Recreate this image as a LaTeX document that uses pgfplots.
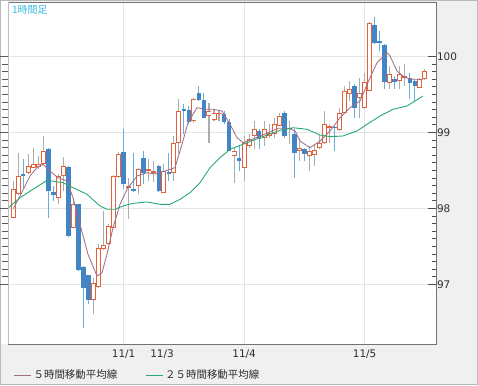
\documentclass[border=0pt]{standalone}
\usepackage{fontspec}
\setmainfont{DejaVu Sans}
\newfontfamily\jp{Noto Sans CJK JP}
\usepackage{pgfplots}
\usepackage{pgfplotstable}
\pgfplotsset{compat=1.18}
\definecolor{upc}{RGB}{226,98,62}
\definecolor{dnc}{RGB}{66,132,196}
\definecolor{wickup}{RGB}{172,172,172}
\definecolor{wickdn}{RGB}{100,175,225}
\definecolor{maf}{RGB}{160,112,138}
\definecolor{mas}{RGB}{40,170,115}
\definecolor{bggray}{RGB}{240,240,240}
\definecolor{gridc}{RGB}{228,228,228}
\definecolor{titlec}{RGB}{60,180,230}
\definecolor{txt}{RGB}{45,45,45}

\pgfplotstableread{
i o h l c
0 97.879 98.36 97.87 98.253
1 98.187 98.734 98.18 98.428
3 98.471 98.713 98.45 98.559
4 98.536 98.80 98.53 98.582
5 98.546 98.69 98.52 98.589
6 98.582 98.954 98.57 98.757
9 98.142 98.45 98.055 98.428
10 98.428 98.678 98.23 98.559
12 97.747 98.142 97.74 98.055
16 96.796 97.089 96.616 97.016
17 96.971 97.529 96.96 97.476
18 97.463 97.967 97.45 97.520
19 97.529 97.80 97.52 97.770
20 97.747 98.44 97.74 98.428
21 98.418 98.74 98.40 98.721
23 98.27 98.405 97.858 98.29
25 98.296 98.537 98.187 98.516
27 98.493 98.65 98.36 98.516
28 98.47 98.62 98.35 98.49
30 98.208 98.58 98.20 98.493
32 98.471 98.954 98.362 98.866
33 98.866 99.437 98.72 99.283
36 99.151 99.458 99.13 99.437
39 99.217 99.392 98.866 99.283
40 99.161 99.305 99.15 99.261
41 99.239 99.28 99.15 99.261
44 98.691 98.80 98.34 98.757
46 98.537 98.954 98.362 98.866
47 98.822 98.976 98.80 98.91
48 98.954 99.151 98.78 99.042
50 98.932 99.151 98.82 99.042
51 98.954 99.11 98.93 98.997
52 98.976 99.195 98.932 99.108
53 99.086 99.26 99.08 99.217
55 99.042 99.151 98.845 99.063
57 98.757 98.93 98.625 98.80
59 98.691 98.82 98.493 98.757
60 98.704 98.845 98.56 98.766
61 98.80 98.976 98.78 98.866
62 98.866 99.283 98.845 99.108
63 99.063 99.108 98.866 99.086
65 99.033 99.326 99.02 99.261
66 99.261 99.612 99.25 99.546
67 99.503 99.678 99.414 99.568
69 99.458 99.72 99.195 99.524
70 99.318 99.787 99.31 99.668
71 99.546 100.45 99.54 100.445
75 99.655 99.875 99.568 99.774
77 99.678 99.875 99.568 99.774
78 99.721 99.897 99.61 99.743
81 99.59 99.72 99.58 99.70
82 99.70 99.836 99.69 99.809
}\upcandles

\pgfplotstableread{
i o h l c
2 98.45 98.647 98.274 98.428
7 98.779 98.79 97.879 98.230
8 98.217 98.30 98.10 98.178
11 98.546 98.56 97.62 97.638
13 98.055 98.06 97.18 97.191
14 97.234 97.24 96.432 96.958
15 97.121 97.13 96.739 96.796
22 98.743 99.042 98.25 98.318
24 98.257 98.73 98.22 98.23
26 98.668 98.757 98.318 98.471
29 98.559 98.57 98.22 98.230
31 98.48 98.734 98.362 98.45
34 99.305 99.371 98.976 99.283
35 99.296 99.35 99.11 99.142
37 99.524 99.612 99.41 99.424
38 99.424 99.52 99.19 99.195
42 99.239 99.283 99.11 99.142
43 99.142 99.18 98.75 98.757
45 98.66 98.82 98.49 98.625
49 99.02 99.042 98.78 98.91
54 99.261 99.283 98.932 98.954
56 98.976 99.042 98.405 98.734
58 98.779 98.80 98.625 98.713
64 99.076 99.086 98.757 99.055
68 99.612 99.634 99.195 99.326
72 100.414 100.52 100.17 100.182
73 100.204 100.336 100.07 100.182
74 100.147 100.16 99.568 99.668
76 99.70 99.743 99.568 99.668
79 99.721 99.787 99.437 99.655
80 99.678 99.70 99.414 99.612
}\downcandles

\pgfplotstableread{
x y
0 97.993
1.35 98.164
3.35 98.428
4.74 98.537
5.94 98.582
7.33 98.493
8.92 98.405
10.72 98.362
11.91 98.142
13.31 97.792
14.9 97.397
16.69 97.112
17.69 97.155
18.68 97.397
19.88 97.747
21.27 98.055
22.67 98.253
24.66 98.428
26.65 98.471
28.25 98.454
30.24 98.493
32.23 98.537
33.63 98.845
34.82 99.129
36.61 99.326
38.21 99.305
39.8 99.305
41.59 99.283
43.19 99.108
44.58 98.932
45.78 98.866
47.57 98.91
49.16 98.954
50.76 98.997
52.75 99.055
54.74 99.055
56.14 99.02
57.13 98.888
59.12 98.80
61.12 98.888
63.11 99.02
65.1 99.195
67.09 99.326
69.08 99.414
71.08 99.721
72.47 99.918
74.46 100.05
75.06 100.007
76.45 99.809
78.05 99.721
79.64 99.70
81.63 99.70
}\mafive

\pgfplotstableread{
x y
-1.04 98.003
1.35 98.142
6.73 98.371
9.92 98.34
11.91 98.274
14.7 98.187
17.29 98.033
18.69 97.99
20.28 97.99
21.87 98.033
23.86 98.068
26.65 98.086
29.24 98.055
31.24 98.055
33.23 98.121
35.22 98.208
37.21 98.339
39.2 98.537
41.2 98.668
43.19 98.779
45.78 98.845
49.16 98.932
53.15 99.029
55.74 99.063
58.53 99.042
61.12 98.967
63.11 98.945
65.7 98.954
68.49 99.02
70.48 99.108
73.07 99.217
75.66 99.305
78.45 99.349
80.04 99.414
81.63 99.48
}\matwentyfive

\begin{document}
\begin{tikzpicture}[x=1bp,y=1bp]
\useasboundingbox (-8,-41) rectangle (470,344);
\fill[bggray] (-8,-41) rectangle (470,344);
\fill[white] (-8,0) rectangle (0,344);
\draw[gray!55, line width=1bp] (-7.5,-40.5) rectangle (469.5,343.5);

\begin{axis}[
  at={(0,0)}, anchor=south west,
  width=428bp, height=342bp, scale only axis,
  xmin=-1.036, xmax=84.22, ymin=96.217, ymax=100.717,
  axis background/.style={fill=white},
  axis line style={draw=black!55, line width=0.8bp},
  xtick={22,46,70}, xticklabels={11/1,11/4,11/5},
  extra x ticks={29.64}, extra x tick labels={11/3},
  extra x tick style={grid=none},
  xtick style={draw=none},
  xtick pos=bottom,
  xmajorgrids, ymajorgrids,
  grid style={gridc, line width=1bp},
  ytick={97,98,99,100},
  minor y tick num=9,
  ytick pos=right, yticklabel pos=right,
  tick align=inside,
  major tick length=8bp, minor tick length=4bp,
  ytick style={draw=black!70, line width=0.8bp},
  minor y tick style={draw=black!70, line width=0.8bp},
  /pgf/number format/assume math mode=true,
  yticklabel style={font=\fontsize{10.5}{12}\selectfont, text=txt, xshift=-2.5bp},
  xticklabel style={font=\fontsize{10.5}{12}\selectfont, text=txt, yshift=-2bp},
  legend style={at={(0.006,-0.091)}, anchor=west, draw=none, fill=none,
    font=\jp\fontsize{10.5}{12}\selectfont, text=txt,
    /tikz/every even column/.append style={column sep=26bp}},
  legend columns=2, legend cell align=left,
  candle/.style={draw=none, mark=none, forget plot, error bars/y dir=plus, error bars/y explicit, error bars/error mark=none},
]
% wicks
\addplot [candle, error bars/error bar style={line width=1.1bp, draw=wickup}]
  table [x=i, y=l, y error plus expr=\thisrow{h}-\thisrow{l}] {\upcandles};
\addplot [candle, error bars/error bar style={line width=1.0bp, draw=wickdn}]
  table [x=i, y=l, y error plus expr=\thisrow{h}-\thisrow{l}] {\downcandles};
% down bodies
\addplot [candle, error bars/error bar style={line width=4.5bp, draw=dnc}]
  table [x=i, y=c, y error plus expr=\thisrow{o}-\thisrow{c}] {\downcandles};
% up bodies (hollow): orange bar, then a slightly shorter and narrower white bar
\addplot [candle, error bars/error bar style={line width=5bp, draw=upc}]
  table [x=i, y=o, y error plus expr=\thisrow{c}-\thisrow{o}] {\upcandles};
\addplot [candle, error bars/error bar style={line width=3.2bp, draw=white}]
  table [x=i, y expr=\thisrow{o}+0.0115, y error plus expr={max(\thisrow{c}-\thisrow{o}-0.023,0)}] {\upcandles};
% moving averages
\addplot [maf, line width=0.85bp, mark=none] table [x=x, y=y] {\mafive};
\addlegendentry{５時間移動平均線}
\addplot [mas, line width=0.9bp, mark=none] table [x=x, y=y] {\matwentyfive};
\addlegendentry{２５時間移動平均線}
\node[anchor=north west, font=\jp\fontsize{10}{11}\selectfont, text=titlec, inner sep=0pt]
  at (rel axis cs:0.0093,0.992) {1時間足};
\end{axis}

\begin{axis}[
  at={(0,0)}, anchor=south west,
  width=428bp, height=342bp, scale only axis,
  xmin=-1.036, xmax=84.22, ymin=96.217, ymax=100.717,
  axis x line=none, axis y line*=left,
  y axis line style={draw=black!25, line width=0.8bp, -},
  ytick={97,98,99,100}, yticklabels={},
  minor y tick num=9,
  tick align=outside,
  major tick length=8bp, minor tick length=6bp,
  ytick style={draw=black!65, line width=0.9bp},
  minor y tick style={draw=black!65, line width=0.9bp},
]
\end{axis}
\end{tikzpicture}
\end{document}
